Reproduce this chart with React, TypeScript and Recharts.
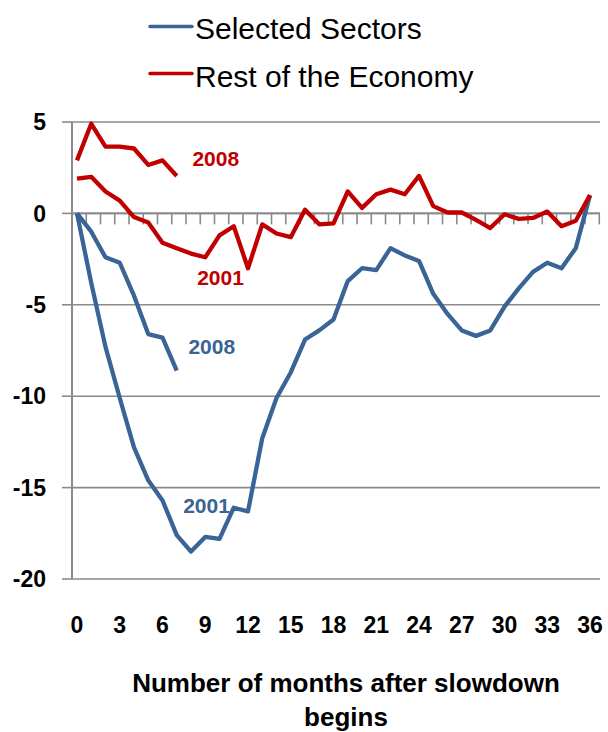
import React from 'react';
import {
  LineChart,
  Line,
  XAxis,
  YAxis,
  CartesianGrid,
  ReferenceLine,
  ReferenceDot,
  Legend,
  Label,
} from 'recharts';

// ---------- data ----------
const months = [
  0, 1, 2, 3, 4, 5, 6, 7, 8, 9, 10, 11, 12, 13, 14, 15, 16, 17, 18, 19, 20, 21, 22, 23, 24,
  25, 26, 27, 28, 29, 30, 31, 32, 33, 34, 35, 36,
];

const selected2001 = [
  0, -3.8, -7.3, -10.1, -12.8, -14.6, -15.7, -17.6, -18.5, -17.7, -17.8, -16.1, -16.3, -12.3,
  -10.1, -8.7, -6.9, -6.4, -5.8, -3.7, -3.0, -3.1, -1.9, -2.3, -2.6, -4.4, -5.5, -6.4, -6.7,
  -6.4, -5.1, -4.1, -3.2, -2.7, -3.0, -1.9, 1.0,
];

const selected2008 = [0, -1.0, -2.4, -2.7, -4.5, -6.6, -6.8, -8.6];

const rest2001 = [
  1.9, 2.0, 1.2, 0.7, -0.2, -0.5, -1.6, -1.9, -2.2, -2.4, -1.2, -0.7, -3.0, -0.6, -1.1, -1.3,
  0.2, -0.6, -0.55, 1.2, 0.3, 1.05, 1.3, 1.05, 2.05, 0.4, 0.05, 0.05, -0.35, -0.8, -0.05, -0.3,
  -0.25, 0.1, -0.7, -0.4, 1.0,
];

const rest2008 = [2.9, 4.9, 3.65, 3.65, 3.55, 2.65, 2.9, 2.05];

const xTicks = [0, 3, 6, 9, 12, 15, 18, 21, 24, 27, 30, 33, 36];
const yTicks = [-20, -15, -10, -5, 0, 5];

const BLUE = '#3A6396';
const RED = '#C00000';
const GRID = '#8A8A8A';
const FONT = "'Liberation Sans', Arial, sans-serif";

const legendItems = [
  { name: 'Selected Sectors', color: BLUE },
  { name: 'Rest of the Economy', color: RED },
];

const seriesLabels = [
  { text: '2008', month: 9.74, value: 2.57, color: RED },
  { text: '2001', month: 10.07, value: -3.94, color: RED },
  { text: '2008', month: 9.46, value: -7.71, color: BLUE },
  { text: '2001', month: 9.09, value: -16.4, color: BLUE },
];

const xTitleLines = ['Number of months after slowdown', 'begins'];
const sourceText = 'Source: IMF staff calculations.';

const data = months.map((m, i) => ({
  month: m,
  s2001: selected2001[i],
  s2008: i < selected2008.length ? selected2008[i] : undefined,
  r2001: rest2001[i],
  r2008: i < rest2008.length ? rest2008[i] : undefined,
}));

// x extent of the plot area (in months) and category tick marks on the zero axis
const X_MIN = -0.35;
const X_MAX = 36.7;
const boundaries = months.map((m) => m + X_MIN + 1);

const LegendContent = () => (
  <svg width={600} height={724} style={{ overflow: 'hidden', pointerEvents: 'none' }}>
    {legendItems.map((it, i) => (
      <g key={it.name}>
        <line
          x1={142}
          x2={184}
          y1={18.5 + i * 47}
          y2={18.5 + i * 47}
          stroke={it.color}
          strokeWidth={3.5}
          strokeLinecap="round"
        />
        <text x={187} y={30.5 + i * 48} fontFamily={FONT} fontSize={30} fill="#000">
          {it.name}
        </text>
      </g>
    ))}
    <text x={4} y={736} fontFamily={FONT} fontSize={17} fontWeight="bold" fill="#000">
      {sourceText}
    </text>
  </svg>
);

const XTitle = (props: any) => {
  const vb = props.viewBox || { x: 0, y: 0, width: 0, height: 0 };
  const cx = vb.x + vb.width / 2 + 10;
  return (
    <text textAnchor="middle" fontFamily={FONT} fontSize={26} fontWeight="bold" fill="#000">
      <tspan x={cx} y={684}>
        {xTitleLines[0]}
      </tspan>
      <tspan x={cx} y={718}>
        {xTitleLines[1]}
      </tspan>
    </text>
  );
};

export default function App() {
  return (
    <div style={{ position: 'absolute', left: 8, top: 8, width: 600, height: 724, overflow: 'hidden' }}>
      <LineChart
        width={600}
        height={724}
        data={data}
        margin={{ top: 114, right: 8, bottom: 93, left: 0 }}
      >
        <CartesianGrid vertical={false} stroke={GRID} strokeWidth={1.6} />
        <XAxis
          dataKey="month"
          type="number"
          domain={[X_MIN, X_MAX]}
          allowDataOverflow
          ticks={xTicks}
          interval={0}
          axisLine={false}
          tickLine={false}
          tickSize={0}
          tickMargin={38}
          height={60}
          tick={{ fontFamily: FONT, fontSize: 23, fontWeight: 'bold', fill: '#000' }}
        >
          <Label content={<XTitle />} />
        </XAxis>
        <YAxis
          type="number"
          domain={[-20, 5]}
          ticks={yTicks}
          interval={0}
          width={64}
          axisLine={{ stroke: GRID, strokeWidth: 2 }}
          tickLine={{ stroke: GRID, strokeWidth: 1.6 }}
          tickSize={10}
          tickMargin={16}
          tick={{ fontFamily: FONT, fontSize: 23, fontWeight: 'bold', fill: '#000' }}
        />
        <ReferenceLine y={0} stroke={GRID} strokeWidth={1.8} />
        {boundaries.map((b) => (
          <ReferenceLine
            key={'t' + b}
            segment={[
              { x: b, y: 0 },
              { x: b, y: -0.6 },
            ]}
            stroke={GRID}
            strokeWidth={1.6}
            ifOverflow="visible"
          />
        ))}
        <Line
          dataKey="s2001"
          stroke={BLUE}
          strokeWidth={4.3}
          dot={false}
          isAnimationActive={false}
          strokeLinejoin="round"
          legendType="none"
        />
        <Line
          dataKey="s2008"
          stroke={BLUE}
          strokeWidth={4.3}
          dot={false}
          isAnimationActive={false}
          strokeLinejoin="round"
          legendType="none"
        />
        <Line
          dataKey="r2001"
          stroke={RED}
          strokeWidth={4.3}
          dot={false}
          isAnimationActive={false}
          strokeLinejoin="round"
          legendType="none"
        />
        <Line
          dataKey="r2008"
          stroke={RED}
          strokeWidth={4.3}
          dot={false}
          isAnimationActive={false}
          strokeLinejoin="round"
          legendType="none"
        />
        {seriesLabels.map((l, i) => (
          <ReferenceDot
            key={'l' + i}
            x={l.month}
            y={l.value}
            r={0}
            ifOverflow="visible"
            shape={(p: any) => (
              <text
                x={p.cx}
                y={p.cy}
                textAnchor="middle"
                fontFamily={FONT}
                fontSize={21}
                fontWeight="bold"
                fill={l.color}
              >
                {l.text}
              </text>
            )}
          />
        ))}
        <Legend
          layout="vertical"
          align="center"
          verticalAlign="middle"
          wrapperStyle={{ top: 0, left: 0, width: 600, height: 724, pointerEvents: 'none' }}
          content={<LegendContent />}
        />
      </LineChart>
    </div>
  );
}
